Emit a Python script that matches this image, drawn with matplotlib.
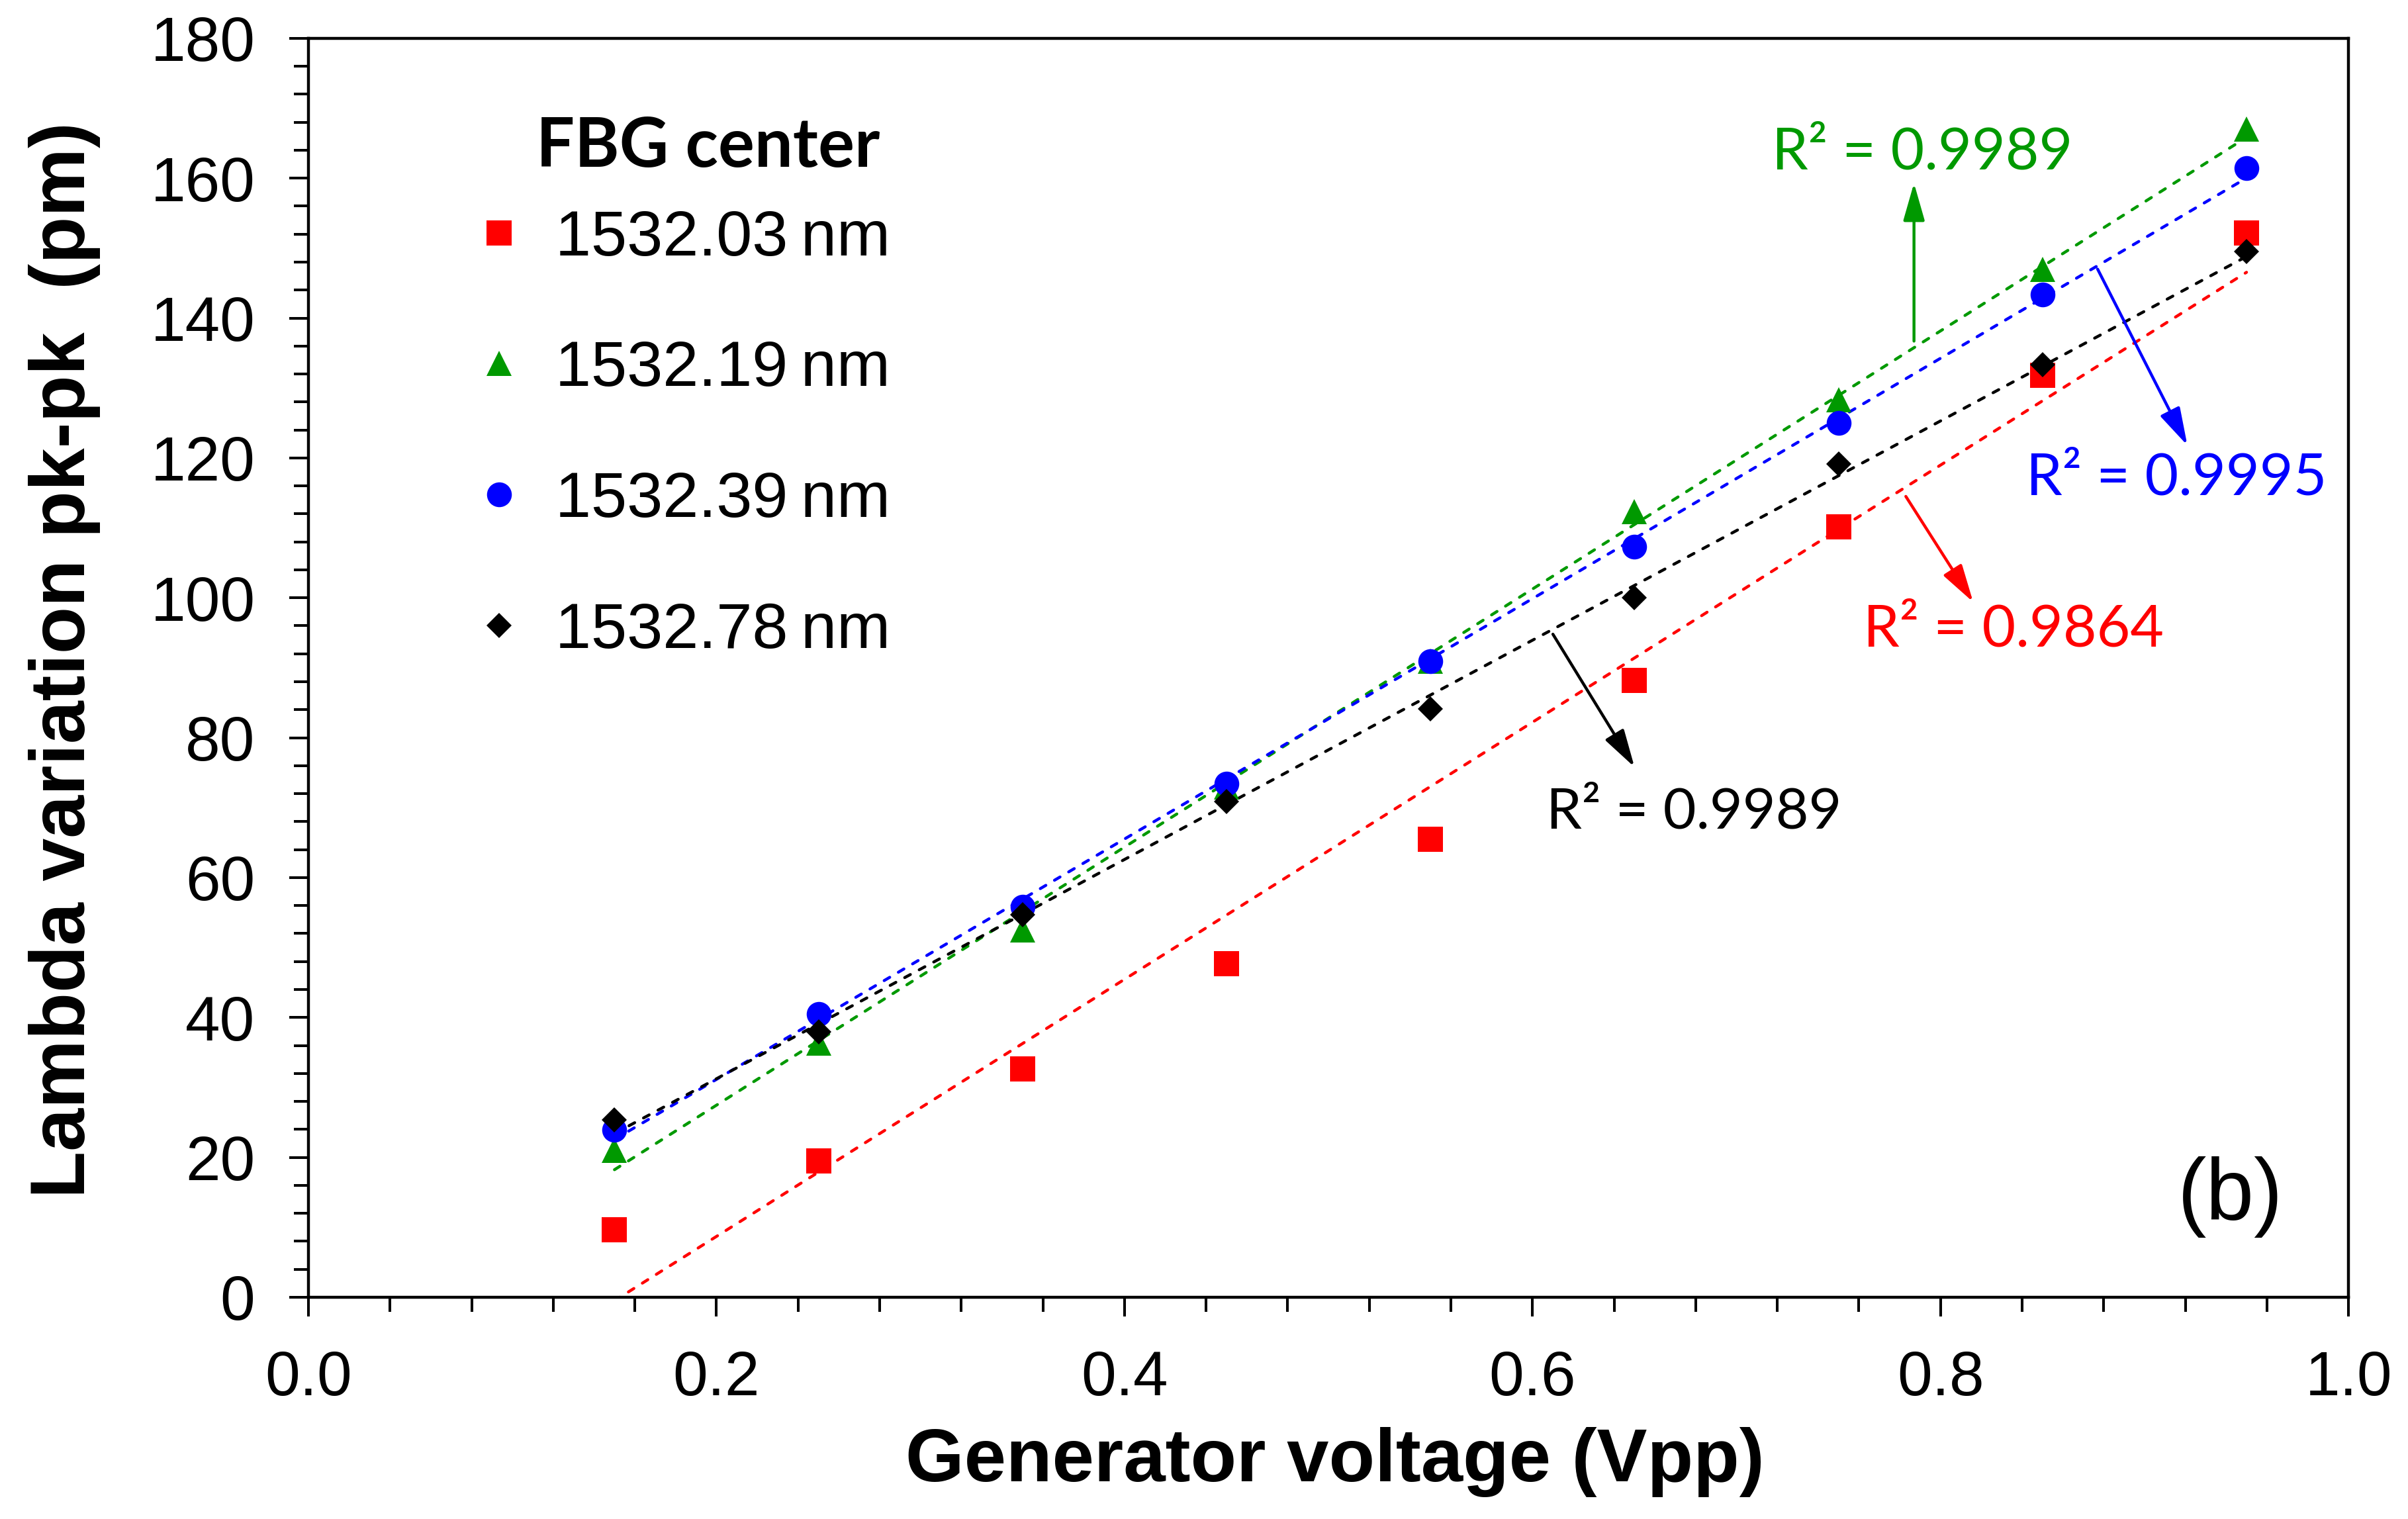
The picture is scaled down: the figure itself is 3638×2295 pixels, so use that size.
import numpy as np
import matplotlib
matplotlib.use("Agg")
import matplotlib.pyplot as plt
from matplotlib.ticker import MultipleLocator, FormatStrFormatter

# generator voltage (Vpp)
voltage = [0.15, 0.25, 0.35, 0.45, 0.55, 0.65, 0.75, 0.85, 0.95]

# lambda variation pk-pk (pm) for each FBG center
fbg_1532_03 = [9.6, 19.5, 32.6, 47.7, 65.5, 88.2, 110.1, 131.8, 152.2]
fbg_1532_19 = [21.0, 36.3, 52.5, 73.0, 90.9, 112.3, 128.3, 147.0, 167.0]
fbg_1532_39 = [23.9, 40.5, 55.8, 73.4, 90.9, 107.3, 125.0, 143.4, 161.4]
fbg_1532_78 = [25.4, 37.9, 54.7, 70.9, 84.1, 100.0, 119.1, 133.3, 149.5]

labels = ['1532.03\u2009nm', '1532.19\u2009nm', '1532.39\u2009nm', '1532.78\u2009nm']
r2_text = ['R\u00b2 = 0.9864', 'R\u00b2 = 0.9989', 'R\u00b2 = 0.9995', 'R\u00b2 = 0.9989']

colors = ['#FF0000', '#009900', '#0000FF', '#000000']
markers = ['s', '^', 'o', 'D']
msizes = [27, 27, 27, 19]

plt.rcParams['font.family'] = ['Liberation Sans', 'DejaVu Sans']

fig = plt.figure(figsize=(36.38, 22.95), dpi=100)
ax = fig.add_axes([0.1281, 0.1460, 0.8472, 0.8288])

series = [fbg_1532_03, fbg_1532_19, fbg_1532_39, fbg_1532_78]
x = np.array(voltage)
handles = []
for ys, c, m, ms, lab in zip(series, colors, markers, msizes, labels):
    # linear trendline, as in the spreadsheet
    k, b = np.polyfit(x, ys, 1)
    xt = np.array([x[0], x[-1]])
    ax.plot(xt, k * xt + b, color=c, lw=3.2, linestyle=(0, (2.2, 3.4)),
            dash_capstyle='round', zorder=2)
    h, = ax.plot(x, ys, linestyle='none', marker=m, markersize=ms, color=c,
                 markeredgewidth=0, label=lab, zorder=3)
    handles.append(h)

ax.set_xlim(0, 1.0)
ax.set_ylim(0, 180)
ax.xaxis.set_major_locator(MultipleLocator(0.2))
ax.xaxis.set_minor_locator(MultipleLocator(0.04))
ax.yaxis.set_major_locator(MultipleLocator(20))
ax.yaxis.set_minor_locator(MultipleLocator(4))
ax.xaxis.set_major_formatter(FormatStrFormatter('%.1f'))

ax.tick_params(which='major', direction='out', length=21, width=2.9, labelsize=68, pad=36)
ax.tick_params(which='minor', direction='out', length=16, width=2.9)
ax.tick_params(axis='y', which='major', pad=37)
for s in ax.spines.values():
    s.set_linewidth(3.2)

ax.set_xlabel('Generator voltage (Vpp)', fontsize=82, fontweight='bold')
ax.set_ylabel('Lambda variation pk-pk  (pm)', fontsize=84, fontweight='bold')
ax.xaxis.set_label_coords(0.503, -0.103)
ax.yaxis.set_label_coords(-0.102, 0.506)

leg = ax.legend(handles=handles, loc='upper left', bbox_to_anchor=(0.0776, 0.8645),
                frameon=False, fontsize=70, handlelength=1.0, handletextpad=0.38,
                labelspacing=1.11, borderpad=0, borderaxespad=0, numpoints=1)
ax.text(0.196, 161.6, 'FBG center', fontsize=74, family='Lato', fontweight='bold',
        ha='center', va='baseline')

# R^2 labels with arrows from the trendlines
arrow = dict(arrowstyle='-|>,head_length=3.5,head_width=1.0', lw=3.2,
             mutation_scale=10, shrinkA=0, shrinkB=0)

ax.annotate('', xy=(0.787, 159.3), xytext=(0.787, 136.7),
            arrowprops=dict(arrow, color=colors[1]))
ax.text(0.791, 161.3, r2_text[1], color=colors[1], fontsize=63, family='Lato',
        ha='center', va='baseline')

ax.annotate('', xy=(0.921, 121.8), xytext=(0.877, 147.0),
            arrowprops=dict(arrow, color=colors[2]))
ax.text(0.9156, 114.7, r2_text[2], color=colors[2], fontsize=63, family='Lato',
        ha='center', va='baseline')

ax.annotate('', xy=(0.816, 99.4), xytext=(0.783, 114.5),
            arrowprops=dict(arrow, color=colors[0]))
ax.text(0.8357, 93.1, r2_text[0], color=colors[0], fontsize=63, family='Lato',
        ha='center', va='baseline')

ax.annotate('', xy=(0.650, 75.8), xytext=(0.610, 94.8),
            arrowprops=dict(arrow, color=colors[3]))
ax.text(0.679, 67.0, r2_text[3], color=colors[3], fontsize=62, family='Lato',
        ha='center', va='baseline')

ax.text(0.942, 11.1, '(b)', fontsize=94, ha='center', va='baseline')

fig.savefig('out.png', dpi=100)
